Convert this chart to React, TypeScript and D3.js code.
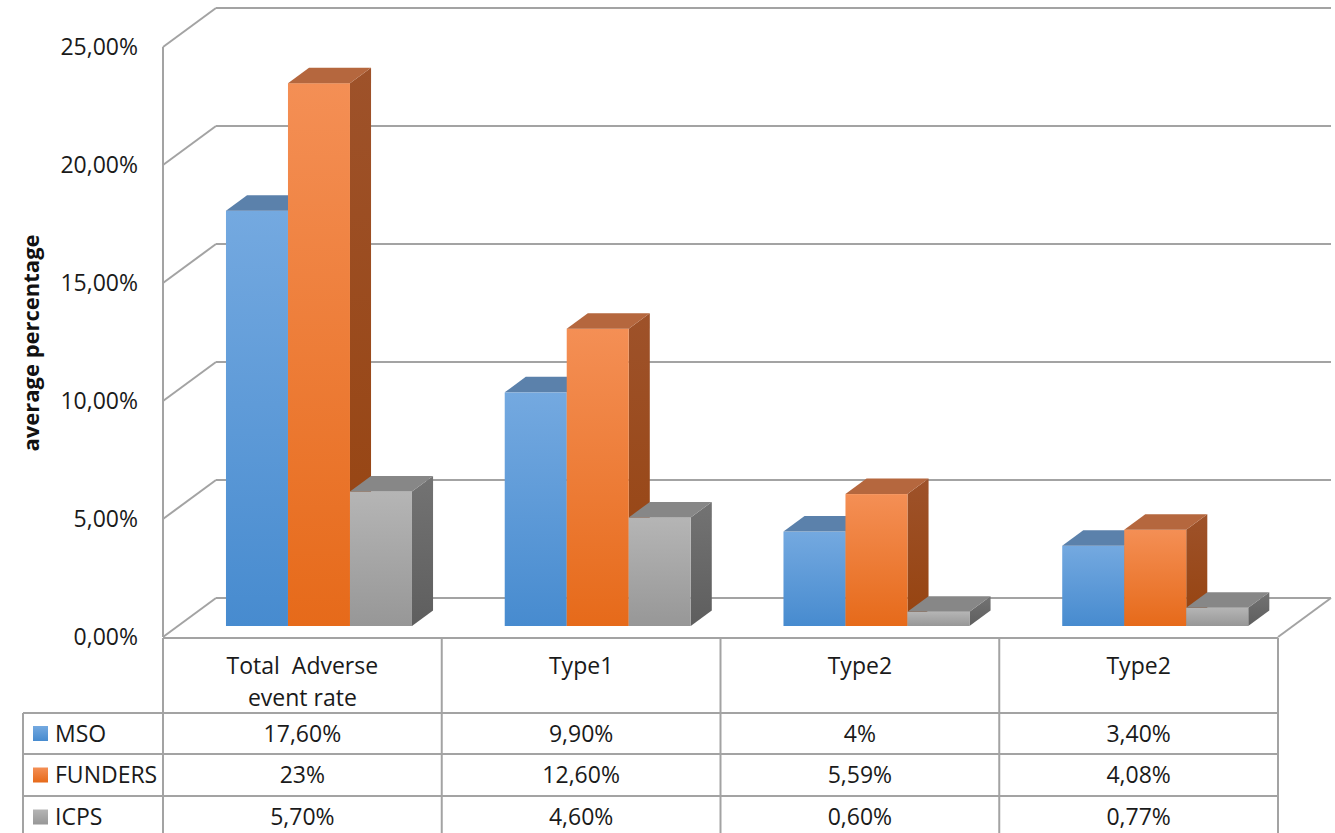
import React from "react";
import * as d3 from "d3";

const categories = ["Total  Adverse|event rate", "Type1", "Type2", "Type2"];
const seriesNames = ["MSO", "FUNDERS", "ICPS"];
const msoValues = [0.176, 0.099, 0.04, 0.034];
const fundersValues = [0.23, 0.126, 0.0559, 0.0408];
const icpsValues = [0.057, 0.046, 0.006, 0.0077];
const msoLabels = ["17,60%", "9,90%", "4%", "3,40%"];
const fundersLabels = ["23%", "12,60%", "5,59%", "4,08%"];
const icpsLabels = ["5,70%", "4,60%", "0,60%", "0,77%"];
const yTicks = [0, 0.05, 0.1, 0.15, 0.2, 0.25];
const yTickLabels = ["0,00%", "5,00%", "10,00%", "15,00%", "20,00%", "25,00%"];
const axisTitle = "average percentage";

const seriesValues = [msoValues, fundersValues, icpsValues];
const seriesLabels = [msoLabels, fundersLabels, icpsLabels];

const palette = [
  { top: "#74a9e0", bottom: "#478bcf", cap: "#5b81ab", side: "#4a6f9a", sideB: "#3d6088" },
  { top: "#f48f55", bottom: "#e66a1a", cap: "#b5673e", side: "#9e522a", sideB: "#96430f" },
  { top: "#b5b5b5", bottom: "#979797", cap: "#878787", side: "#737373", sideB: "#5e5e5e" },
];

const W = 1335;
const H = 833;
const FONT = "'Open Sans', 'Noto Sans', sans-serif";
const FS = 23;

// plot geometry (front plane)
const xFront0 = 163;
const xFront1 = 1278;
const depthDx = 53;
const depthDy = -39;
const yScale = d3.scaleLinear().domain([0, 0.25]).range([637, 47]);
const xBand = d3.scaleBand<number>().domain(categories.map((_, i) => i)).range([xFront0, xFront1]);

// bars: front face sits at depth fraction fFront, back at fBack
const fFront = 11 / 39;
const fBack = 26.5 / 39;
const barW = 62;
const groupShift = 16.6;

// table geometry
const tableRows = [638, 713, 754, 796, 838];
const legendLeft = 23;

export default function App() {
  const gridColor = "#a3a3a3";
  const bdx = depthDx * fFront;
  const bdy = depthDy * fFront;
  const ddx = depthDx * (fBack - fFront);
  const ddy = depthDy * (fBack - fFront);

  const bars: React.ReactNode[] = [];
  categories.forEach((_, ci) => {
    const center = (xBand(ci) as number) + xBand.bandwidth() / 2 + groupShift;
    const start = center - (barW * seriesNames.length) / 2;
    seriesValues.forEach((vals, si) => {
      const v = vals[ci];
      const x0 = start + si * barW;
      const x1 = x0 + barW;
      const yb = yScale(0) + bdy;
      const yt = yScale(v) + bdy;
      const c = palette[si];
      bars.push(
        <g key={`b-${ci}-${si}`}>
          <polygon
            points={`${x1},${yt} ${x1 + ddx},${yt + ddy} ${x1 + ddx},${yb + ddy} ${x1},${yb}`}
            fill={`url(#side${si})`}
          />
          <rect x={x0} y={yt} width={barW} height={yb - yt} fill={`url(#front${si})`} />
          <polygon
            points={`${x0},${yt} ${x0 + ddx},${yt + ddy} ${x1 + ddx},${yt + ddy} ${x1},${yt}`}
            fill={c.cap}
          />
        </g>
      );
    });
  });

  const colEdges = [xFront0, ...categories.map((_, i) => (xBand(i) as number) + xBand.bandwidth())];

  return (
    <svg
      width={W}
      height={H}
      style={{ position: "fixed", left: 0, top: 0, background: "#fff" }}
      xmlns="http://www.w3.org/2000/svg"
    >
      <defs>
        {palette.map((c, i) => (
          <linearGradient key={`f${i}`} id={`front${i}`} x1="0" y1="0" x2="0" y2="1">
            <stop offset="0" stopColor={c.top} />
            <stop offset="1" stopColor={c.bottom} />
          </linearGradient>
        ))}
        {palette.map((c, i) => (
          <linearGradient key={`s${i}`} id={`side${i}`} x1="0" y1="0" x2="0" y2="1">
            <stop offset="0" stopColor={c.side} />
            <stop offset="1" stopColor={c.sideB} />
          </linearGradient>
        ))}
      </defs>
      <rect x={0} y={0} width={W} height={H} fill="#fff" />

      {/* back wall gridlines and diagonal tick connectors */}
      {yTicks.map((t) => (
        <g key={`g${t}`}>
          <line
            x1={xFront0 + depthDx}
            x2={xFront1 + depthDx}
            y1={yScale(t) + depthDy}
            y2={yScale(t) + depthDy}
            stroke={gridColor}
            strokeWidth={2}
          />
          <line
            x1={xFront0}
            y1={yScale(t)}
            x2={xFront0 + depthDx}
            y2={yScale(t) + depthDy}
            stroke={gridColor}
            strokeWidth={2}
          />
        </g>
      ))}
      {/* floor right edge and left axis */}
      <line
        x1={xFront1}
        y1={yScale(0)}
        x2={xFront1 + depthDx}
        y2={yScale(0) + depthDy}
        stroke={gridColor}
        strokeWidth={2}
      />
      <line x1={xFront0} x2={xFront0} y1={yScale(0.25)} y2={yScale(0)} stroke={gridColor} strokeWidth={2} />

      {bars}

      {/* y tick labels */}
      {yTicks.map((t, i) => (
        <text
          key={`yl${t}`}
          x={138}
          y={yScale(t)}
          dy="0.36em"
          textAnchor="end"
          fontFamily={FONT}
          fontSize={FS}
          fill="#1a1a1a"
        >
          {yTickLabels[i]}
        </text>
      ))}
      <text
        transform={`translate(39,${343}) rotate(-90)`}
        textAnchor="middle"
        fontFamily={FONT}
        fontWeight="bold"
        fontSize={22}
        fill="#111"
      >
        {axisTitle}
      </text>

      {/* data table */}
      <line x1={xFront0} x2={xFront1} y1={tableRows[0]} y2={tableRows[0]} stroke={gridColor} strokeWidth={2} />
      {tableRows.slice(1).map((y) => (
        <line key={`r${y}`} x1={legendLeft} x2={xFront1} y1={y} y2={y} stroke={gridColor} strokeWidth={2} />
      ))}
      {colEdges.map((x, i) => (
        <line
          key={`c${i}`}
          x1={x}
          x2={x}
          y1={tableRows[0]}
          y2={tableRows[tableRows.length - 1]}
          stroke={gridColor}
          strokeWidth={2}
        />
      ))}
      <line x1={legendLeft} x2={legendLeft} y1={tableRows[1]} y2={tableRows[4]} stroke={gridColor} strokeWidth={2} />

      {categories.map((c, i) => {
        const cx = (xBand(i) as number) + xBand.bandwidth() / 2;
        const lines = c.split("|");
        return (
          <text
            key={`cat${i}`}
            x={cx}
            textAnchor="middle"
            fontFamily={FONT}
            fontSize={FS}
            fill="#1a1a1a"
            style={{ whiteSpace: "pre" }}
          >
            {lines.map((l, li) => (
              <tspan key={li} x={cx} y={666 + li * 32} dy="0.36em">
                {l}
              </tspan>
            ))}
          </text>
        );
      })}

      {seriesNames.map((name, si) => {
        const yc = (tableRows[si + 1] + tableRows[si + 2]) / 2;
        return (
          <g key={`leg${si}`}>
            <rect x={33} y={yc - 7.5} width={15} height={15} fill={`url(#front${si})`} />
            <text x={55} y={yc} dy="0.36em" fontFamily={FONT} fontSize={FS} fill="#1a1a1a">
              {name}
            </text>
            {seriesLabels[si].map((lab, ci) => (
              <text
                key={`v${si}-${ci}`}
                x={(xBand(ci) as number) + xBand.bandwidth() / 2}
                y={yc}
                dy="0.36em"
                textAnchor="middle"
                fontFamily={FONT}
                fontSize={FS}
                fill="#1a1a1a"
              >
                {lab}
              </text>
            ))}
          </g>
        );
      })}
    </svg>
  );
}
